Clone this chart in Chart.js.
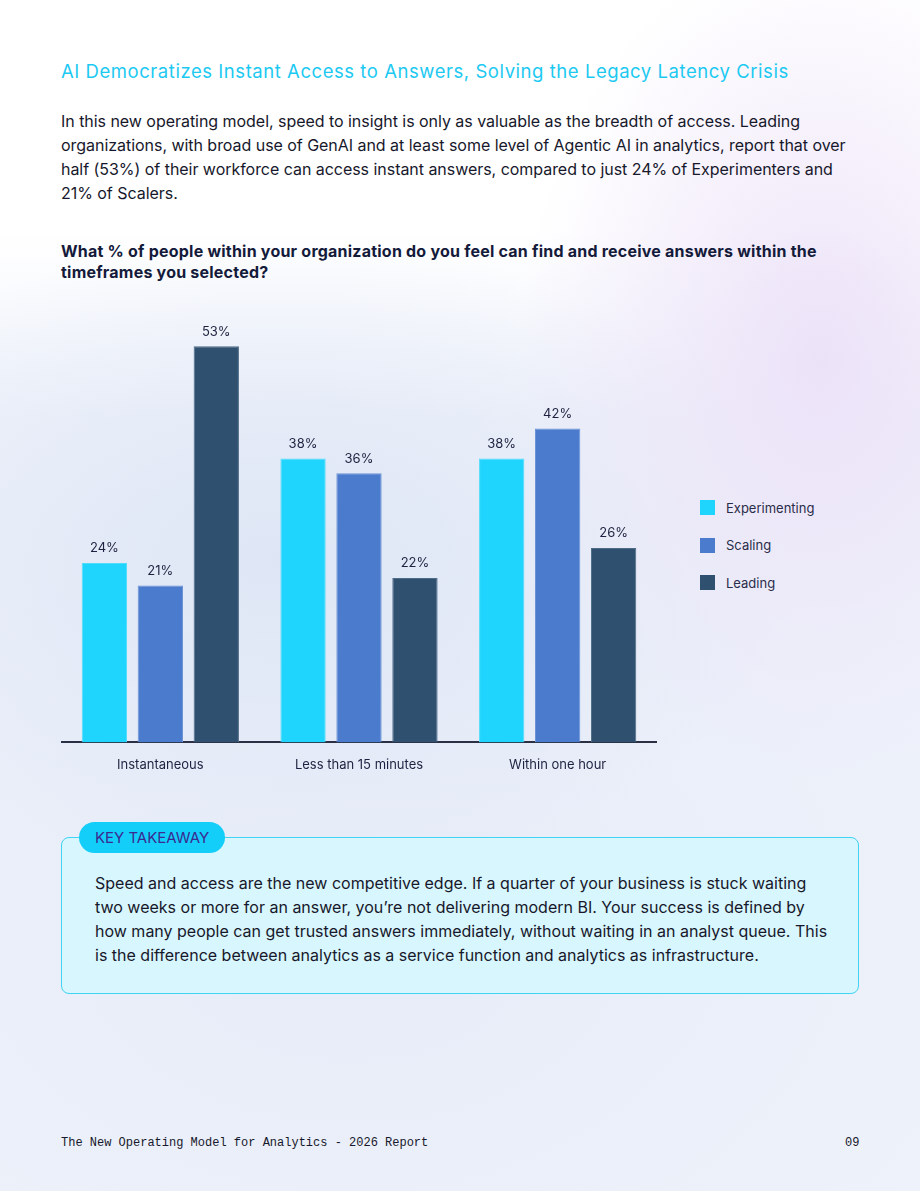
<!DOCTYPE html>
<html>
<head>
<meta charset="utf-8">
<script src="https://cdn.jsdelivr.net/npm/chart.js@4.4.1/dist/chart.umd.min.js"></script>
<style>
  html, body { margin: 0; padding: 0; }
  body {
    width: 920px; height: 1191px; position: relative; overflow: hidden;
    font-family: Inter, "Noto Sans", sans-serif;
    background:
      radial-gradient(ellipse 300px 420px at 820px 360px, rgba(236,226,248,1), rgba(236,226,248,0) 100%),
      radial-gradient(ellipse 520px 320px at 280px 560px, rgba(222,230,245,1), rgba(222,230,245,0) 100%),
      radial-gradient(ellipse 700px 500px at 350px 920px, rgba(230,236,248,1), rgba(230,236,248,0) 100%),
      linear-gradient(180deg, #ffffff 0px, #ffffff 230px, #eef2fa 420px, #eef2fa 1191px);
  }
  .abs { position: absolute; }
  #title { left: 61px; top: 60px; font-size: 18.5px; color: #1cc9f2; letter-spacing: 0.55px; white-space: nowrap; }
  #intro { left: 61px; top: 109px; width: 790px; font-size: 16px; line-height: 24px; color: #17182b; letter-spacing: -0.04px; }
  #question { left: 61px; top: 241px; width: 790px; font-size: 16px; line-height: 21px; font-weight: 700; color: #141a3a; letter-spacing: 0.22px; }
  #chartWrap { left: 61px; top: 294px; width: 596px; height: 494px; }
  #legend { left: 700px; top: 500px; }
  .lg { display: flex; align-items: center; height: 15px; margin-bottom: 22.5px; font-size: 13px; color: #2a2d4a; }
  .lg span.sw { width: 15px; height: 15px; margin-right: 11px; display: inline-block; }
  #box { left: 61px; top: 837px; width: 796px; height: 155px; background: #d7f6fd; border: 1px solid #3fd3f4; border-radius: 8px; }
  #badge { left: 79px; top: 822px; width: 146px; height: 31px; background: #14cefa; border-radius: 16px; color: #3b2a8f; font-size: 15px; line-height: 31px; text-align: center; }
  #take { left: 95px; top: 871px; width: 737px; font-size: 16px; line-height: 24px; color: #17182b; letter-spacing: 0px; }
  #footer { left: 61px; top: 1136px; font-family: "Liberation Mono", "DejaVu Sans Mono", monospace; font-size: 12px; color: #17182b; }
  #page { left: 845px; top: 1136px; font-family: "Liberation Mono", "DejaVu Sans Mono", monospace; font-size: 12px; color: #17182b; }
</style>
</head>
<body>
<div id="title" class="abs">AI Democratizes Instant Access to Answers, Solving the Legacy Latency Crisis</div>
<div id="intro" class="abs">In this new operating model, speed to insight is only as valuable as the breadth of access. Leading organizations, with broad use of GenAI and at least some level of Agentic AI in analytics, report that over half (53%) of their workforce can access instant answers, compared to just 24% of Experimenters and 21% of Scalers.</div>
<div id="question" class="abs">What % of people within your organization do you feel can find and receive answers within the timeframes you selected?</div>
<div id="chartWrap" class="abs"><canvas id="c"></canvas></div>
<div id="legend" class="abs"></div>
<div id="box" class="abs"></div>
<div id="badge" class="abs">KEY TAKEAWAY</div>
<div id="take" class="abs">Speed and access are the new competitive edge. If a quarter of your business is stuck waiting two weeks or more for an answer, you’re not delivering modern BI. Your success is defined by how many people can get trusted answers immediately, without waiting in an analyst queue. This is the difference between analytics as a service function and analytics as infrastructure.</div>
<div id="footer" class="abs">The New Operating Model for Analytics - 2026 Report</div>
<div id="page" class="abs">09</div>
<script>
const categories = ["Instantaneous", "Less than 15 minutes", "Within one hour"];
const seriesNames = ["Experimenting", "Scaling", "Leading"];
const experimenting = [24, 38, 38];
const scaling = [21, 36, 42];
const leading = [53, 22, 26];
const seriesColors = ["#20d5fd", "#4a7bcd", "#2f506f"];
const borderColors = ["#4fdcfb", "#6b93d6", "#4e6b88"];

const values = [experimenting, scaling, leading];

const legend = document.getElementById('legend');
seriesNames.forEach((n, i) => {
  const d = document.createElement('div');
  d.className = 'lg';
  d.innerHTML = '<span class="sw" style="background:' + seriesColors[i] + '"></span>' + n;
  legend.appendChild(d);
});

const labelPlugin = {
  id: 'valueLabels',
  afterDatasetsDraw(chart) {
    const ctx = chart.ctx;
    ctx.save();
    ctx.font = '13px Inter, "Noto Sans", sans-serif';
    ctx.fillStyle = '#1e2240';
    ctx.textAlign = 'center';
    ctx.textBaseline = 'bottom';
    chart.data.datasets.forEach((ds, di) => {
      chart.getDatasetMeta(di).data.forEach((bar, i) => {
        ctx.fillText(ds.data[i] + '%', bar.x, bar.y - 8);
      });
    });
    ctx.restore();
  }
};

new Chart(document.getElementById('c'), {
  type: 'bar',
  data: {
    labels: categories,
    datasets: seriesNames.map((n, i) => ({
      label: n,
      data: values[i],
      backgroundColor: seriesColors[i],
      borderColor: borderColors[i],
      borderWidth: 1,
      categoryPercentage: 0.845,
      barPercentage: 0.81
    }))
  },
  options: {
    responsive: true,
    maintainAspectRatio: false,
    animation: false,
    layout: { padding: 0 },
    plugins: { legend: { display: false }, tooltip: { enabled: false } },
    scales: {
      x: {
        grid: { display: false, drawTicks: false },
        border: { display: true, color: '#2b3045', width: 2 },
        ticks: { color: '#1e2240', font: { size: 13, family: 'Inter, "Noto Sans", sans-serif' }, padding: 15 }
      },
      y: { display: false, min: 0, max: 60 }
    }
  },
  plugins: [labelPlugin]
});
</script>
</body>
</html>
